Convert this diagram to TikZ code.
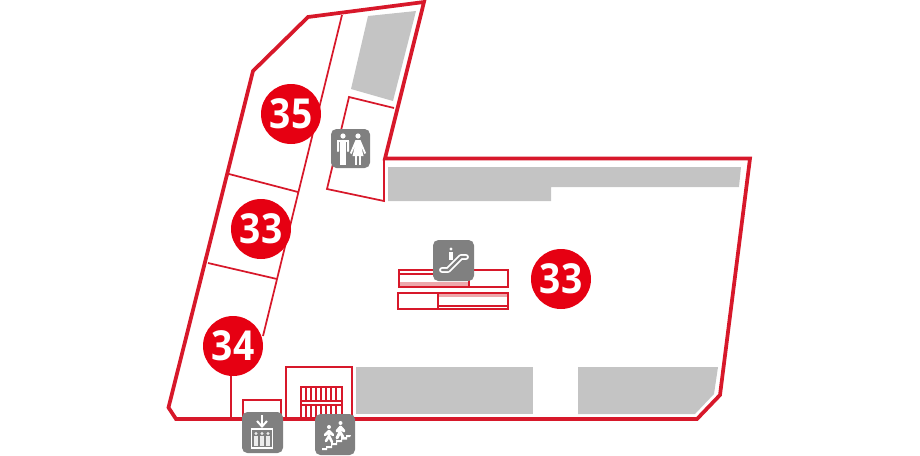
\documentclass[tikz,border=0pt]{standalone}
\usepackage{fontspec}
\setmainfont{Open Sans}
\definecolor{rd}{HTML}{D7182A}
\definecolor{cr}{HTML}{E60012}
\definecolor{gy}{HTML}{C4C4C4}
\definecolor{ic}{HTML}{808080}
\definecolor{pk}{HTML}{EDA8AC}
\tikzset{
 thin line/.style={draw=rd,line width=1.3pt,line join=miter},
 thick line/.style={draw=rd,line width=2.8pt,line join=miter},
 block/.style={fill=gy},
 badge/.style={circle,fill=cr,text=white,minimum size=45pt,inner sep=0pt,font=\fontsize{31pt}{32pt}\selectfont\bfseries},
 iconbox/.style={fill=ic,rounded corners=4pt},
 wh/.style={fill=white}
}
\newcommand{\digits}[1]{\scalebox{0.9}[1]{#1}}
\begin{document}
\begin{tikzpicture}[x=0.75pt,y=-0.75pt]
\useasboundingbox (0,0) rectangle (920,455);
% grey blocks
\fill[block] (368,16)--(416,11)--(393,101)--(351,89)--cycle;
\fill[block] (388,167)--(741,167)--(739,187)--(551,187)--(551,201)--(388,201)--cycle;
\fill[block] (356,367) rectangle (533,414);
\fill[block] (578,367)--(718,367)--(714,394)--(695,414)--(578,414)--cycle;
% thin lines
\draw[thin line] (342,15)--(263,336);
\draw[thin line] (229,174)--(298,192);
\draw[thin line] (208,263)--(277,279);
\draw[thin line] (231,370)--(231,419);
\draw[thin line] (394,108)--(349,97)--(327,189)--(384,201)--(384,158);
\draw[thin line] (243,419)--(243,400)--(281,400)--(281,419);
\draw[thin line] (286,419)--(286,367)--(352,367)--(352,419);
% stairs
\draw[thin line] (301,419)--(301,387)--(342,387)--(342,419);
\draw[thin line] (301,401)--(342,401) (301,405)--(342,405);
\foreach \x in {306,311,...,337}{\draw[draw=rd,line width=1pt] (\x,387)--(\x,401) (\x,405)--(\x,419);}
% escalators
\fill[pk] (399,282) rectangle (469,286);
\fill[pk] (438,293) rectangle (508,297);
\draw[thin line] (399,270) rectangle (469,287);
\draw[thin line] (399,274)--(469,274);
\draw[thin line] (469,270) rectangle (508,287);
\draw[thin line] (398,293) rectangle (438,309);
\draw[thin line] (438,293) rectangle (508,309);
\draw[thin line] (438,306)--(508,306);
% outline
\draw[thick line] (168.5,407.5)--(176,419)--(697,419)--(720,395)--(750,158.5)--(385,158.5)--(424,2)--(308,17)--(253,71)--cycle;
% badges
\node[badge] (b35) at (291,114) {\digits{35}};
\node[badge] (b33a) at (261,229) {\digits{33}};
\node[badge] (b34) at (233,346) {\digits{34}};
\node[badge] (b33b) at (561,279) {\digits{33}};
% restroom icon
\fill[iconbox] (331,129) rectangle (370,168);
\begin{scope}[shift={(331,129)}]
 \fill[wh] (12,7) circle (2.6);
 \fill[wh] (6,11) rectangle (18,12.5);
 \fill[wh,rounded corners=0.6pt] (6,11) rectangle (8,23);
 \fill[wh,rounded corners=0.6pt] (16,11) rectangle (18,23);
 \fill[wh] (8.6,11) rectangle (15.4,23);
 \fill[wh] (8.6,23) rectangle (11.6,36);
 \fill[wh] (12.4,23) rectangle (15.4,36);
 \fill[wh] (27,7) circle (2.6);
 \fill[wh] (24.5,11)--(29.5,11)--(35,24)--(33.5,25)--(30,17)--(32.5,27)--(21.5,27)--(24,17)--(20.5,25)--(19,24)--cycle;
 \fill[wh] (23.6,27) rectangle (26.4,36);
 \fill[wh] (27.6,27) rectangle (30.4,36);
\end{scope}
% escalator icon
\fill[iconbox] (433,240) rectangle (474,281);
\begin{scope}[shift={(433,240)}]
 \draw[white,line width=4.4pt,line cap=round,line join=round] (9,30)--(15,30)--(28,17)--(33,17);
 \draw[ic,line width=1.8pt,line cap=round,line join=round] (9,30)--(15,30)--(28,17)--(33,17);
 \fill[wh] (18,9) circle (1.7);
 \fill[wh] (16.4,11.5) rectangle (19.6,20);
\end{scope}
% elevator icon
\fill[iconbox] (242,412) rectangle (283,453);
\begin{scope}[shift={(242,412)}]
 \draw[white,line width=1.5pt] (20,3)--(20,14);
 \draw[white,line width=1.5pt] (15,9)--(20,14.5)--(25,9);
 \draw[white,line width=1.4pt] (9.5,17) rectangle (30.5,36);
 \foreach \x in {14,20,26}{
  \fill[white!85!ic] (\x,21.5) circle (1.7);
  \fill[white!85!ic] (\x-2.3,23.5) rectangle (\x+2.3,34);
 }
\end{scope}
% stairs icon
\fill[iconbox] (315,414) rectangle (355,455);
\begin{scope}[shift={(315,414)}]
 \fill[wh] (7,36)--(7,34)--(11,34)--(11,32)--(16,32)--(16,29)--(21,29)--(21,26)--(26,26)--(26,23)--(31,23)--(31,21)--(36,21)--(35,23)--(32,23)--(32,25.5)--(27,25.5)--(27,28)--(22,28)--(22,31)--(17,31)--(17,34)--(12,34)--(12,36)--cycle;
 \fill[wh] (14,13) circle (2);
 \draw[white,line width=2pt,line cap=round] (14,17)--(14,22)--(17,28) (14,22)--(11,27) (14,17)--(10,21) (14,17)--(18,21);
 \fill[wh] (25.5,9) circle (2);
 \draw[white,line width=2.2pt,line cap=round] (25.5,13)--(25,18)--(28,23) (25,18)--(22,24) (25.5,13)--(22,17) (25.5,13)--(29,17);
\end{scope}
\end{tikzpicture}
\end{document}
